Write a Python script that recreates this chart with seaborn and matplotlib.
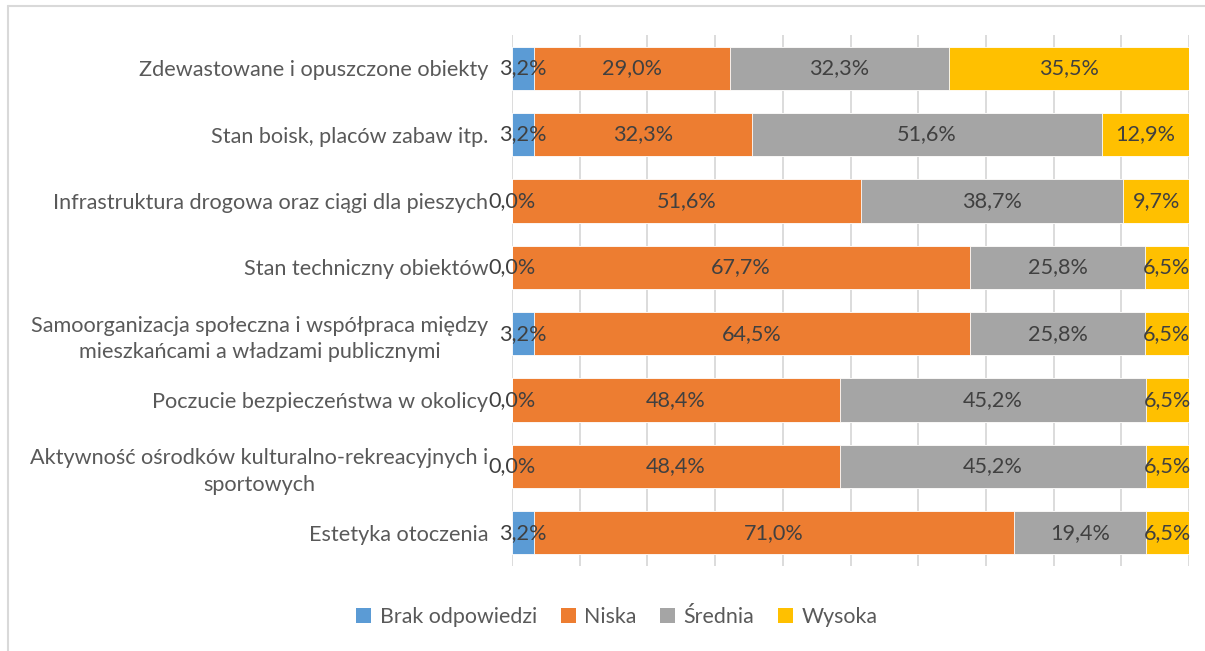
import numpy as np
import pandas as pd
import seaborn as sns
import matplotlib.pyplot as plt
from matplotlib.lines import Line2D
from matplotlib.patches import Patch

categories = [
    "Zdewastowane i opuszczone obiekty",
    "Stan boisk, placów zabaw itp.",
    "Infrastruktura drogowa oraz ciągi dla pieszych",
    "Stan techniczny obiektów",
    "Samoorganizacja społeczna i współpraca między\nmieszkańcami a władzami publicznymi",
    "Poczucie bezpieczeństwa w okolicy",
    "Aktywność ośrodków kulturalno-rekreacyjnych i\nsportowych",
    "Estetyka otoczenia",
]
brak = [3.2, 3.2, 0.0, 0.0, 3.2, 0.0, 0.0, 3.2]
niska = [29.0, 32.3, 51.6, 67.7, 64.5, 48.4, 48.4, 71.0]
srednia = [32.3, 51.6, 38.7, 25.8, 25.8, 45.2, 45.2, 19.4]
wysoka = [35.5, 12.9, 9.7, 6.5, 6.5, 6.5, 6.5, 6.5]

series_names = ["Brak odpowiedzi", "Niska", "Średnia", "Wysoka"]
series_values = [brak, niska, srednia, wysoka]
colors = ["#5B9BD5", "#ED7D31", "#A5A5A5", "#FFC000"]

sns.set_theme(style="white")
plt.rcParams["font.family"] = ["Lato", "DejaVu Sans"]

FS = 15.6
W, H = 1205, 651
fig = plt.figure(figsize=(W / 100, H / 100), dpi=100)
ax = fig.add_axes([512 / W, (H - 566) / H, (1189 - 512) / W, (566 - 35) / H])

df = pd.DataFrame(dict(zip(series_names, series_values)), index=categories)
cum = df.cumsum(axis=1)

# stacked bars: draw cumulative totals from the widest down so each layer shows its segment
for name, col in reversed(list(zip(series_names, colors))):
    sns.barplot(x=cum[name].values, y=categories, orient="h", color=col,
                saturation=1, width=0.65, ax=ax, edgecolor="white",
                linewidth=0.6, zorder=3)

# segment labels
starts = cum.shift(axis=1, fill_value=0)
for i, cat in enumerate(categories):
    for name in series_names:
        v = df.loc[cat, name]
        x = starts.loc[cat, name] + v / 2
        ax.text(x, i, f"{v:.1f}%".replace(".", ","), ha="center", va="center",
                fontsize=FS, color="#404040", zorder=5)

ax.set_xlim(0, 100)
ax.set_ylim(len(categories) - 0.5, -0.5)
ax.set_xticks(np.arange(0, 101, 10))
ax.set_xticklabels([])
ax.xaxis.grid(True, color="#D9D9D9", linewidth=1.3, zorder=0)
ax.set_axisbelow(True)
for s in ax.spines.values():
    s.set_visible(False)
ax.tick_params(axis="x", length=0)
ax.tick_params(axis="y", length=0, pad=17, labelsize=FS, labelcolor="#595959")
for lbl in ax.get_yticklabels():
    lbl.set_multialignment("center")
    lbl.set_linespacing(1.4)
ax.set_xlabel("")
ax.set_ylabel("")

handles = [Patch(facecolor=c, edgecolor="none") for c in colors]
fig.legend(handles, series_names, loc="center", bbox_to_anchor=(617 / W, (H - 617) / H),
           ncol=4, frameon=False, labelcolor="#595959",
           handlelength=0.7, handleheight=0.7, handletextpad=0.4, columnspacing=1.1,
           prop={"size": FS - 0.2})

# outer chart frame
fc = "#D9D9D9"
fig.add_artist(Line2D([8 / W, 8 / W], [0, (H - 6) / H], color=fc, linewidth=1.5, transform=fig.transFigure))
fig.add_artist(Line2D([8 / W, 1], [(H - 6) / H, (H - 6) / H], color=fc, linewidth=1.5, transform=fig.transFigure))

fig.savefig("out.png", dpi=100)
